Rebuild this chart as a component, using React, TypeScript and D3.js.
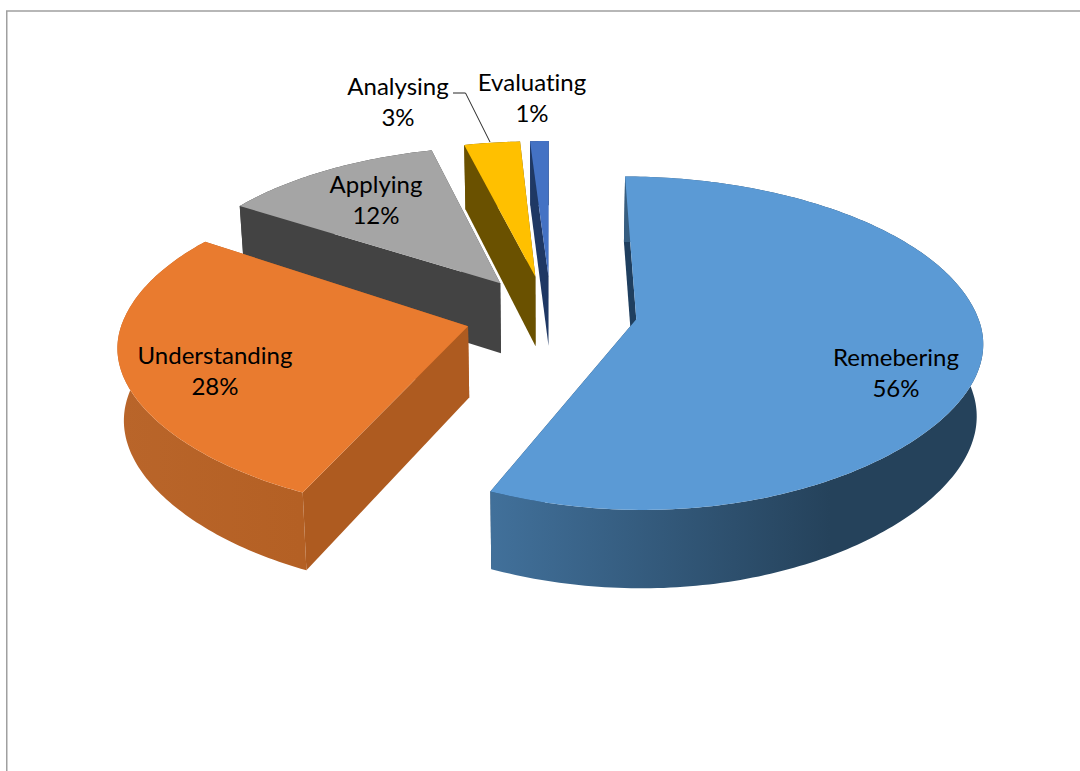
import React from "react";
import * as d3 from "d3";

const categories = ["Remebering", "Understanding", "Applying", "Analysing", "Evaluating"];
const shares = [56, 28, 12, 3, 1];

const topColors = ["#5b9ad5", "#e97b2f", "#a5a5a5", "#ffc000", "#4472c4"];
const cutColors = ["#1f3f5f", "#ae5b20", "#434343", "#6a5100", "#1f3864"];
const rimColors: [string, string][] = [
  ["#41709a", "#25425b"],
  ["#b9652a", "#b46024"],
  ["#434343", "#434343"],
  ["#6a5100", "#6a5100"],
  ["#1f3864", "#1f3864"],
];

const labelCentres: [number, number][] = [
  [896, 358],
  [215, 356],
  [376, 185],
  [398, 87],
  [532, 83],
];

// Projection of the tilted pie plane onto the screen.
const WIDTH = 1080;
const HEIGHT = 771;
const CX = 548;
const CY = 314;
const RADIUS_X = 347;
const RADIUS_Y = 162;
const PERSPECTIVE = 0.13;
const DEPTH = 71;
const DEPTH_FALLOFF = 0.68;
const EXPLODE = 0.24;
const BOTTOM_SHRINK = 0.985;
const FRONT_FLATTEN = 0.08;

// Per-slice camera corrections: rim turn in degrees, rim scale, screen shift, tip shift.
const rimTurn = [0.8, 1.6, 0, 0.4, 0];
const rimScale: [number, number][] = [
  [1, 1],
  [0.99, 0.98],
  [0.985, 1],
  [1, 1],
  [1, 1],
];
const sliceShift = [0, 0, 0, 0, 3];
const tipShift: [number, number][] = [
  [6, -2],
  [0, 0],
  [0, 0],
  [0, 0],
  [0, 0],
];

type Pt = [number, number];

function project(u: number, v: number, lowered: boolean): Pt {
  const w = 1 - PERSPECTIVE * v;
  const x = CX + (RADIUS_X * u) / w;
  const y = CY + (RADIUS_Y * v) / w;
  if (!lowered) return [x, y];
  return [CX + (x - CX) * BOTTOM_SHRINK, y + DEPTH / Math.pow(w, DEPTH_FALLOFF)];
}

const outline = d3.line<Pt>().curve(d3.curveLinear);
const closed = (pts: Pt[]) => (outline(pts) ?? "") + "Z";

const arcs = d3
  .pie<number>()
  .sort(null)
  .value((d) => d)(shares);

function sliceGeometry(index: number) {
  const { startAngle, endAngle } = arcs[index];
  const mid = (startAngle + endAngle) / 2;
  const turn = (rimTurn[index] * Math.PI) / 180;
  const [sx, sy] = rimScale[index];
  const ou = EXPLODE * Math.sin(mid);
  const ov = -EXPLODE * Math.cos(mid);
  const steps = Math.max(2, Math.ceil((endAngle - startAngle) * 60));
  const angles = d3.range(steps + 1).map((i) => startAngle + ((endAngle - startAngle) * i) / steps + turn);
  const shift = (p: Pt, dx = 0, dy = 0): Pt => [p[0] + sliceShift[index] + dx, p[1] + dy];
  const rim = (lowered: boolean) =>
    angles.map((a) => {
      const across = Math.sin(a);
      const along = -Math.cos(a);
      // The near half of the rim sits a little flatter at its shoulders.
      const forward = along > 0 ? along * (1 - FRONT_FLATTEN * across * across) : along;
      return shift(project(ou + sx * across, ov + sy * forward, lowered));
    });
  const [tx, ty] = tipShift[index];
  const apex = shift(project(ou, ov, false), tx, ty);
  const apexLow = shift(project(ou, ov, true), tx, ty);
  const top = rim(false);
  const low = rim(true);
  return {
    face: closed([apex, ...top]),
    startWall: closed([apex, top[0], low[0], apexLow]),
    endWall: closed([apex, top[top.length - 1], low[low.length - 1], apexLow]),
    rimWall: closed([...top, ...low.slice().reverse()]),
  };
}

const drawOrder = [4, 3, 2, 1, 0];
const gradientSpan: [number, number][] = [
  [493, 830],
  [120, 300],
  [240, 430],
  [460, 525],
  [530, 550],
];

const leader: Pt[] = [
  [453, 93],
  [465.5, 93],
  [490, 142],
];

export default function App() {
  return (
    <svg
      width={WIDTH}
      height={HEIGHT}
      viewBox={`0 0 ${WIDTH} ${HEIGHT}`}
      style={{ position: "absolute", left: 0, top: 0, display: "block", background: "#fff" }}
    >
      <defs>
        {rimColors.map((c, i) => (
          <linearGradient
            key={i}
            id={`rim-${i}`}
            gradientUnits="userSpaceOnUse"
            x1={gradientSpan[i][0]}
            x2={gradientSpan[i][1]}
            y1={0}
            y2={0}
          >
            <stop offset="0" stopColor={c[0]} />
            <stop offset="1" stopColor={c[1]} />
          </linearGradient>
        ))}
      </defs>

      <path d="M6.75 771V11H1080" fill="none" stroke="#a0a0a0" strokeWidth={1.5} />

      {drawOrder.map((i) => {
        const g = sliceGeometry(i);
        return (
          <g key={categories[i]}>
            <path d={g.endWall} fill={cutColors[i]} />
            <path d={g.startWall} fill={cutColors[i]} />
            <path d={g.rimWall} fill={`url(#rim-${i})`} />
            <path d={g.face} fill={topColors[i]} />
          </g>
        );
      })}

      <path d={outline(leader) ?? ""} fill="none" stroke="#262626" strokeWidth={1} />

      {categories.map((name, i) => (
        <text
          key={name}
          x={labelCentres[i][0]}
          y={labelCentres[i][1]}
          textAnchor="middle"
          fontFamily="Lato, sans-serif"
          fontSize={24}
          fill="#000"
          style={{ fontVariantLigatures: "none" }}
        >
          <tspan x={labelCentres[i][0]} dy="0.35em">{name}</tspan>
          <tspan x={labelCentres[i][0]} dy="31">{shares[i]}%</tspan>
        </text>
      ))}
    </svg>
  );
}
